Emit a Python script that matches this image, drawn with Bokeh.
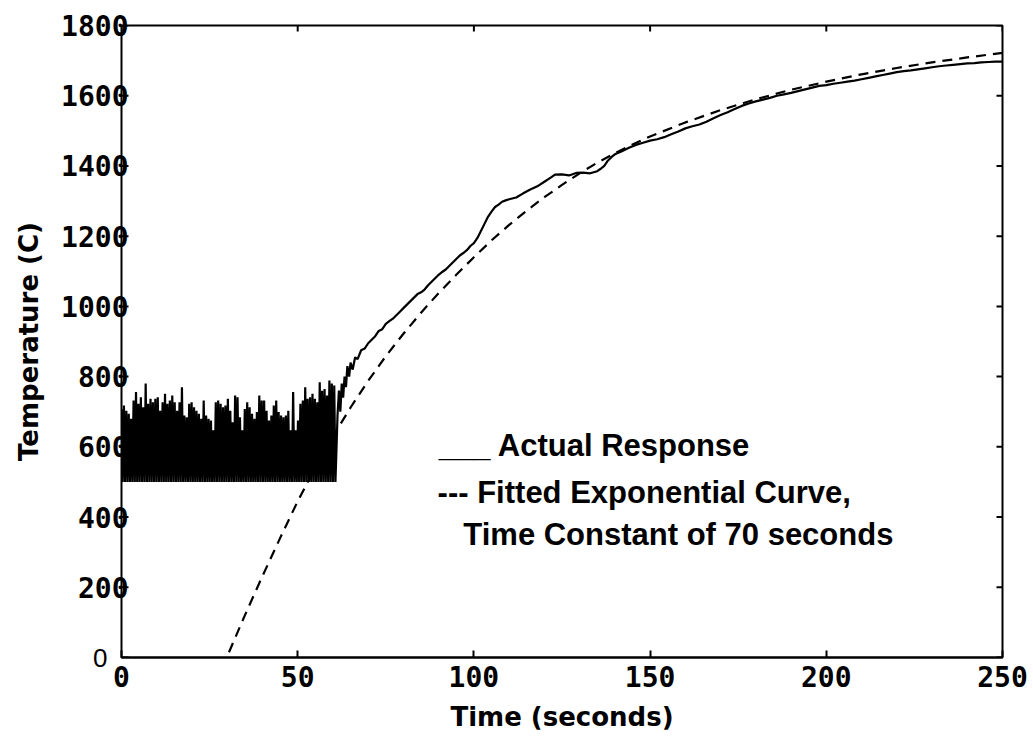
import math
from bokeh.plotting import figure
from bokeh.models import FixedTicker, LinearAxis, Range1d, Label
from bokeh.embed import file_html
from bokeh.resources import INLINE

# ---------------- data ----------------
# noisy phase (0..61 s): the signal alternates between a floor of 500 C and these peaks
noise_peaks = [708, 718, 703, 694, 680, 732, 756, 723, 741, 713, 780, 723, 737, 727,
               737, 741, 703, 727, 751, 723, 732, 746, 727, 703, 727, 770, 689, 684,
               723, 727, 713, 703, 694, 680, 732, 689, 680, 675, 647, 727, 732, 723,
               713,
               718, 737, 703, 670, 746, 741, 684, 647, 708, 727, 713, 694, 680, 699,
               746, 732, 732, 703, 675, 689, 718, 732, 699, 689, 684, 689, 703, 647,
               756, 647, 675, 723, 732, 770, 737, 741, 751, 737, 727, 784, 760, 765,
               746, 789, 780, 775]
noise_floor = 500
noise_step = 0.343  # seconds between samples

# heating phase of the actual response
rise_t = [61.3, 61.7, 62.1, 62.5, 62.9, 63.3, 63.7, 64.1, 64.6, 65.0, 65.6, 66.3, 67, 68,
          69, 70, 71, 72, 73, 74, 75, 76, 77, 78, 79, 80, 81, 82, 83, 84, 85, 86, 87,
          88, 89, 90, 91, 92, 93, 94, 95, 96, 97, 98, 99, 100, 101, 102, 103, 104, 105,
          106, 107, 108, 109, 110, 112, 114, 116, 118, 120, 122, 123, 125, 127, 129,
          131, 133, 135, 136, 137, 138, 139, 140, 142, 144, 146, 148, 150, 152, 154,
          156, 158, 160, 162, 164, 166, 168, 170, 172, 174, 176, 178, 180, 182, 184,
          186, 188, 190, 192, 194, 196, 198, 200, 202, 204, 206, 208, 210, 212, 214,
          216, 218, 220, 222, 224, 226, 228, 230, 232, 234, 236, 238, 240, 242, 244,
          246, 248, 250]
rise_T = [690, 760, 700, 780, 740, 800, 770, 830, 800, 840, 820, 855, 850, 875,
          880, 895, 905, 915, 930, 935, 950, 958, 965, 975, 985, 995, 1005, 1015, 1025,
          1035, 1040, 1048, 1060, 1070, 1080, 1090, 1098, 1105, 1115, 1125, 1135, 1145,
          1152, 1160, 1172, 1180, 1195, 1215, 1235, 1255, 1270, 1283, 1290, 1298, 1302,
          1305, 1310, 1322, 1333, 1342, 1355, 1368, 1375, 1376, 1373, 1380, 1381, 1379,
          1385, 1392, 1400, 1415, 1425, 1433, 1442, 1452, 1460, 1466, 1472, 1476, 1482,
          1490, 1498, 1507, 1513, 1518, 1526, 1536, 1545, 1553, 1562, 1571, 1578, 1584,
          1589, 1594, 1600, 1604, 1608, 1613, 1618, 1623, 1628, 1630, 1634, 1637, 1640,
          1643, 1647, 1651, 1655, 1659, 1663, 1667, 1670, 1672, 1675, 1678, 1681, 1684,
          1686, 1688, 1690, 1692, 1693, 1695, 1696, 1697, 1697]

# fitted exponential curve (time constant 70 s)
fit_t = [30.5, 35, 40, 45, 50, 55, 60, 65, 70, 75, 80, 85, 90, 95, 100, 105, 110, 115,
         120, 125, 130, 135, 140, 145, 150, 160, 170, 180, 190, 200, 210, 220, 230,
         240, 250]
fit_T = [15, 120, 232, 340, 445, 540, 630, 712, 788, 858, 922, 982, 1038, 1090, 1140,
         1188, 1232, 1273, 1311, 1346, 1379, 1409, 1436, 1461, 1484, 1524, 1559, 1590,
         1617, 1640, 1661, 1679, 1695, 1709, 1722]

x_ticks = [0, 50, 100, 150, 200, 250]
y_ticks = [0, 200, 400, 600, 800, 1000, 1200, 1400, 1600, 1800]

legend_lines = ["___ Actual Response",
                "--- Fitted Exponential Curve,",
                "Time Constant of 70 seconds"]

# ---------------- build series ----------------
act_t, act_T = [], []
for i, pk in enumerate(noise_peaks):
    act_t.append(2 * i * noise_step)
    act_T.append(pk)
    act_t.append((2 * i + 1) * noise_step)
    act_T.append(noise_floor)
act_t += rise_t
act_T += rise_T

# ---------------- figure ----------------
x0, x1 = x_ticks[0], x_ticks[-1]
y0, y1 = y_ticks[0], y_ticks[-1]
p = figure(frame_width=881, frame_height=632, output_backend="svg",
           toolbar_location=None, x_range=Range1d(x0, x1), y_range=Range1d(y0, y1),
           min_border_left=121, min_border_top=25, min_border_right=28,
           min_border_bottom=82, background_fill_color="white",
           border_fill_color="white", y_axis_location=None)
p.grid.visible = False
p.outline_line_color = "black"
p.outline_line_width = 2

tick_font = "DejaVu Sans Mono"

# bottom axis
xa = p.xaxis[0]
xa.ticker = FixedTicker(ticks=x_ticks)
xa.axis_line_width = 2
xa.major_tick_in = 7
xa.major_tick_out = 0
xa.major_tick_line_width = 2
xa.minor_tick_line_color = None
xa.major_label_text_font = tick_font
xa.major_label_text_font_style = "bold"
xa.major_label_text_font_size = "28px"
xa.major_label_text_color = "black"
xa.major_label_standoff = 8
xa.axis_label = "Time (seconds)"
xa.axis_label_text_font = "DejaVu Sans"
xa.axis_label_text_font_style = "bold"
xa.axis_label_text_font_size = "26px"
xa.axis_label_text_color = "black"
xa.axis_label_standoff = 12

# inner left axis: only the plain "0"
ya0 = LinearAxis(ticker=FixedTicker(ticks=y_ticks[:1]), axis_line_color=None,
                 major_tick_line_color=None, minor_tick_line_color=None,
                 major_label_text_font="Liberation Sans",
                 major_label_text_font_size="26px", major_label_text_color="black",
                 major_label_standoff=8)
p.add_layout(ya0, "left")

# outer left axis: bold labels 200..1800 and the axis title
ya = LinearAxis(ticker=FixedTicker(ticks=y_ticks[1:]), axis_line_color=None,
                major_tick_line_color=None, minor_tick_line_color=None,
                major_label_text_font=tick_font, major_label_text_font_style="bold",
                major_label_text_font_size="28px", major_label_text_color="black",
                major_label_standoff=-44,
                axis_label="Temperature (C)", axis_label_text_font="DejaVu Sans",
                axis_label_text_font_style="bold", axis_label_text_font_size="26px",
                axis_label_text_color="black", axis_label_standoff=14)
p.add_layout(ya, "left")

# inward ticks on left, right and top (half of a dash marker, clipped by the frame)
p.scatter([x0] * len(y_ticks), y_ticks, marker="dash", size=14, line_width=2,
          line_color="black")
p.scatter([x1] * len(y_ticks), y_ticks, marker="dash", size=12, line_width=2,
          line_color="black")
p.scatter(x_ticks, [y1] * len(x_ticks), marker="dash", size=12, angle=math.pi / 2,
          line_width=2, line_color="black")

p.line(act_t, act_T, line_color="black", line_width=2.2)
p.line(fit_t, fit_T, line_color="black", line_width=2.2, line_dash="10 7")

legend_pos = [(90.0, 604), (89.7, 470), (97.0, 350)]
for txt, (lx, ly) in zip(legend_lines, legend_pos):
    p.add_layout(Label(x=lx, y=ly, text=txt, text_baseline="alphabetic",
                       text_font="Liberation Sans", text_font_style="bold",
                       text_font_size="31px", text_color="black"))

open("out.html", "w").write(file_html(p, INLINE))
